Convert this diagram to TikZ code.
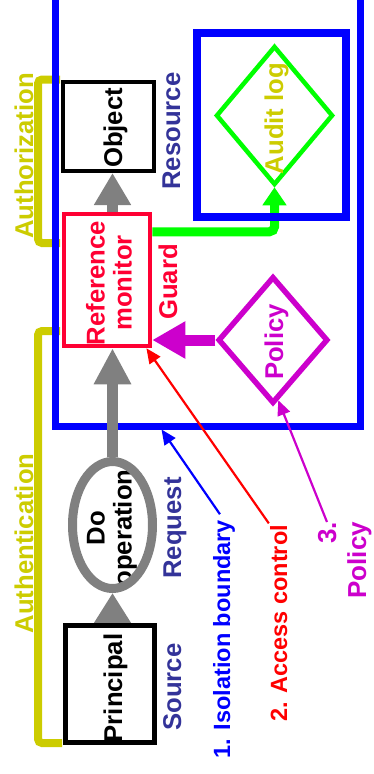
\documentclass[tikz,border=0pt]{standalone}
\usepackage{fontspec}
\setmainfont{Liberation Sans}
\usetikzlibrary{arrows.meta,shapes.geometric}

\definecolor{isoblue}{RGB}{0,0,255}
\definecolor{guardred}{RGB}{255,0,51}
\definecolor{notered}{RGB}{255,0,0}
\definecolor{loggreen}{RGB}{0,255,0}
\definecolor{polmag}{RGB}{204,0,204}
\definecolor{authyellow}{RGB}{204,204,0}
\definecolor{roleblue}{RGB}{51,51,153}
\definecolor{flowgray}{RGB}{128,128,128}

\pgfdeclarelayer{back}
\pgfdeclarelayer{mid}
\pgfsetlayers{back,mid,main}

\tikzset{
  txt/.style={rotate=90, inner sep=0pt, outer sep=0pt,
    font=\bfseries\fontsize{25.7}{27}\selectfont},
  note/.style={rotate=90, inner sep=0pt, outer sep=0pt, anchor=base east,
    font=\bfseries\fontsize{23.5}{27}\selectfont},
  box/.style={draw, rectangle, inner sep=0pt},
  gem/.style={diamond, draw, inner sep=0pt},
  flow/.style={draw=flowgray, line width=11pt, -{Triangle[width=35pt,length=#1]}},
  pointer/.style={line width=2.2pt, -{Triangle[width=13pt,length=15pt]}},
  bracket/.style={draw=authyellow, line width=8pt, rounded corners=4pt},
}

\begin{document}
\begin{tikzpicture}[x=1pt,y=-1pt]
\useasboundingbox (0,0) rectangle (373,774);

% isolation boundary and the two yellow brackets behind it
\begin{pgfonlayer}{back}
  \draw[bracket] (60,79.5) -- (38,79.5) -- (38,243) -- (60,243);
  \draw[bracket] (60,331) -- (38,331) -- (38,743) -- (62,743);
  \node[box, draw=isoblue, line width=7pt, minimum width=305pt,
        minimum height=466pt] (boundary) at (207.5,193) {};
\end{pgfonlayer}

% resource side
\node[box, draw=isoblue, line width=8pt, minimum width=149pt,
      minimum height=184pt] (auditbox) at (271.5,125) {};
\node[gem, draw=loggreen, line width=4.5pt, minimum width=117pt,
      minimum height=139pt] (audit) at (274.5,115.5) {};
\node[gem, draw=polmag, line width=5.5pt, minimum width=110pt,
      minimum height=127pt] (policy) at (273,340) {};
\node[box, line width=4pt, minimum width=91pt, minimum height=89pt]
      (object) at (108.5,126.5) {};
\node[box, draw=guardred, line width=4.5pt, minimum width=86pt,
      minimum height=132pt] (refmon) at (107,280) {};

% request side
\node[txt, align=center] (optext) at (112,528) {Do\\operation};
\node[ellipse, draw=flowgray, line width=9pt, inner sep=0pt,
      minimum width=80pt, minimum height=127pt] (op) at (112.5,525) {};
\node[box, line width=5pt, minimum width=89pt, minimum height=117pt]
      (principal) at (109.5,683.5) {};

% connectors under the boxes
\begin{pgfonlayer}{mid}
  \draw[draw=loggreen, line width=9pt, rounded corners=5pt,
        -{Triangle[width=23pt,length=18pt]}]
        ([yshift=-20pt]refmon.north east) -| (audit.south);
  \draw[flow=32pt] (refmon.north -| op.center) -- (object.south -| op.center);
  \draw[flow=36pt] (op.north) -- (refmon.south -| op.center);
  \draw[flow=30pt] (principal.north -| op.center) -- (op.south);
\end{pgfonlayer}

\draw[draw=polmag, line width=11pt, -{Triangle[width=35pt,length=33pt]}]
      (policy.west) -- (policy.west -| refmon.east);

% texts
\node[txt, text=authyellow, anchor=base] (authz) at (33,156) {Authorization};
\node[txt, text=authyellow, anchor=base] (authn) at (33,543.5) {Authentication};
\node[txt, anchor=base] (objtext) at (122,128) {Object};
\node[txt, text=roleblue, anchor=base] (resource) at (180,131) {Resource};
\node[txt, text=authyellow, anchor=base] (audittext) at (283,118.5) {Audit log};
\node[txt, text=guardred, align=center] (reftext) at (109,283) {Reference\\monitor};
\node[txt, text=guardred, anchor=base] (guard) at (177,282) {Guard};
\node[txt, text=polmag, anchor=base] (poltext) at (283,342) {Policy};
\node[txt, text=roleblue, anchor=base] (request) at (181,528) {Request};
\node[txt, text=roleblue, anchor=base] (source) at (181,687) {Source};
\node[txt, anchor=base] (principaltext) at (122,688) {Principal};

% numbered notes and their pointers
\node[note, text=isoblue] (isolabel) at (230,520) {1. Isolation boundary};
\node[note, text=notered] (aclabel) at (287,525) {2. Access control};
\node[txt, text=polmag, align=right, anchor=north east,
      font=\bfseries\fontsize{26}{30}\selectfont] (pollabel) at (318,522) {3.\\Policy};

\draw[pointer, draw=isoblue, shorten <=7pt] (isolabel.east) -- (boundary.-101.1);
\draw[pointer, draw=notered, shorten <=2pt] (aclabel.north east) -- (refmon.-60);
\draw[pointer, draw=polmag] ([xshift=9pt]pollabel.north east) -- (policy.-85);
\end{tikzpicture}
\end{document}
